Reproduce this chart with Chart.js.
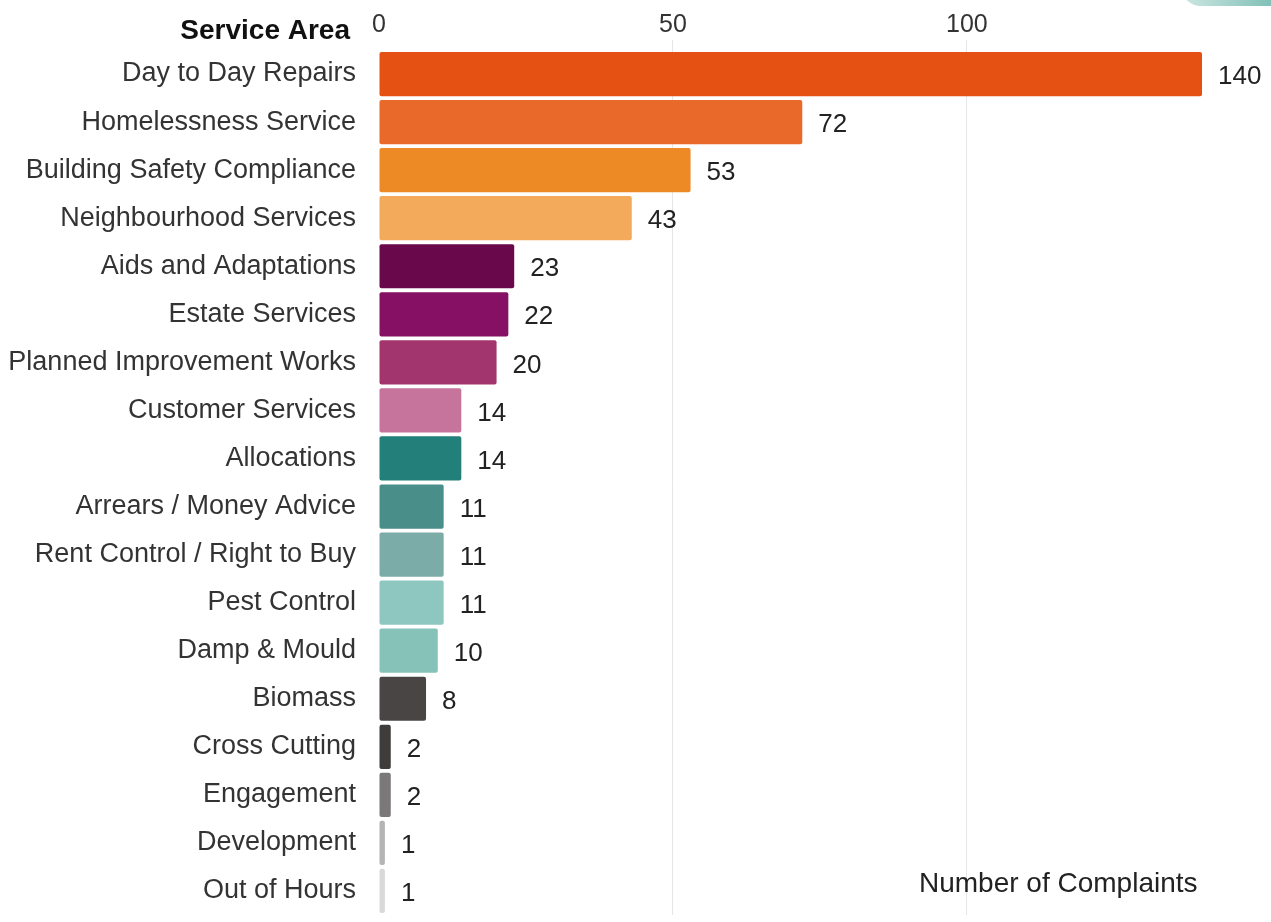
<!DOCTYPE html>
<html>
<head>
<meta charset="utf-8">
<script src="https://cdn.jsdelivr.net/npm/chart.js@4/dist/chart.umd.min.js"></script>
<style>
  html, body { margin: 0; padding: 0; background: #fff; overflow: hidden; }
  #wrap { position: relative; width: 1271px; height: 922px; }
  #deco { position: absolute; right: -20px; top: -14px; width: 110px; height: 20px; border-radius: 0 0 60px 60px; background: linear-gradient(90deg, #cfe7e3, #6fb8ad); }
</style>
</head>
<body>
<div id="wrap">
  <canvas id="c" width="1271" height="922"></canvas>
  <div id="deco"></div>
</div>
<script>
const categories = [
  "Day to Day Repairs", "Homelessness Service", "Building Safety Compliance",
  "Neighbourhood Services", "Aids and Adaptations", "Estate Services",
  "Planned Improvement Works", "Customer Services", "Allocations",
  "Arrears / Money Advice", "Rent Control / Right to Buy", "Pest Control",
  "Damp & Mould", "Biomass", "Cross Cutting", "Engagement", "Development", "Out of Hours"
];
const complaints = [140, 72, 53, 43, 23, 22, 20, 14, 14, 11, 11, 11, 10, 8, 2, 2, 1, 1];
const barColors = [
  "#E55013", "#E9692B", "#EE8A26", "#F4AA5B", "#69094C", "#861063", "#A2356E",
  "#C6749C", "#237F79", "#4A8E8A", "#7BACA8", "#8DC7BF", "#87C2B9", "#4A4545",
  "#3F3C3C", "#7A7878", "#B4B4B4", "#D9D9D9"
];
const xTickValues = [0, 50, 100];
const axisMax = 140;
const yTitle = "Service Area";
const xTitle = "Number of Complaints";

const FONT = "Arial, 'Liberation Sans', Helvetica, sans-serif";

const labelPlugin = {
  id: 'labels',
  afterDatasetsDraw(chart) {
    const ctx = chart.ctx;
    const meta = chart.getDatasetMeta(0);
    ctx.save();
    ctx.font = "26px " + FONT;
    ctx.fillStyle = "#222";
    ctx.textBaseline = "middle";
    ctx.textAlign = "left";
    meta.data.forEach((el, i) => {
      ctx.fillText(String(complaints[i]), el.x + 16, el.y + 3);
    });
    ctx.font = "bold 28px " + FONT;
    ctx.textAlign = "right";
    ctx.fillStyle = "#111";
    ctx.fillText(yTitle, 350, 31);
    ctx.font = "28px " + FONT;
    ctx.textAlign = "left";
    ctx.fillStyle = "#222";
    ctx.fillText(xTitle, 919, 884);
    ctx.restore();
  }
};

new Chart(document.getElementById('c'), {
  type: 'bar',
  data: {
    labels: categories,
    datasets: [{
      data: complaints,
      backgroundColor: barColors,
      barPercentage: 0.92,
      categoryPercentage: 1,
      borderRadius: 2,
      borderSkipped: false
    }]
  },
  options: {
    indexAxis: 'y',
    responsive: false,
    devicePixelRatio: 1,
    animation: false,
    layout: { padding: { top: 0, right: 69, bottom: 7, left: 0 } },
    plugins: { legend: { display: false }, tooltip: { enabled: false } },
    scales: {
      x: {
        position: 'top',
        min: 0,
        max: axisMax,
        afterBuildTicks(scale) {
          scale.ticks = xTickValues.map(v => ({ value: v }));
        },
        afterFit(scale) { scale.height = 50; scale.paddingLeft = 0; scale.paddingRight = 0; },
        ticks: {
          font: { size: 25, family: FONT },
          color: '#333',
          padding: 0
        },
        grid: {
          color: (c) => (c.tick && c.tick.value === 0) ? 'rgba(0,0,0,0)' : '#e6e6e6',
          tickLength: 10,
          lineWidth: 1
        },
        border: { display: false }
      },
      y: {
        afterFit(scale) { scale.width = 379; scale.paddingTop = 0; scale.paddingBottom = 0; },
        ticks: {
          font: { size: 27, family: FONT },
          color: '#333',
          padding: 23
        },
        grid: { display: false, drawTicks: false },
        border: { display: false }
      }
    }
  },
  plugins: [labelPlugin]
});
</script>
</body>
</html>
